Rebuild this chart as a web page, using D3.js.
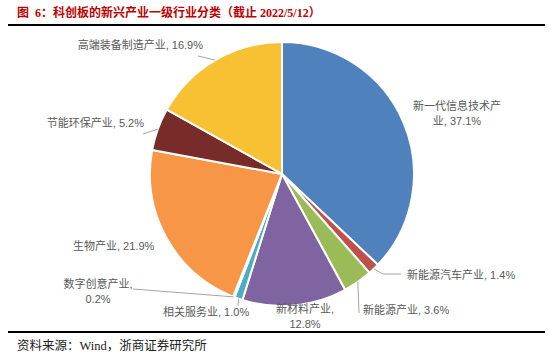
<!DOCTYPE html>
<html><head><meta charset="utf-8">
<script src="https://cdn.jsdelivr.net/npm/d3@7"></script>
<style>body{margin:0;background:#fff}svg{display:block}</style>
</head><body>
<svg id="c" width="550" height="359"></svg>
<script>
const categories = ["新一代信息技术产业","新能源汽车产业","新能源产业","新材料产业","相关服务业","数字创意产业","生物产业","节能环保产业","高端装备制造产业"];
const values = [37.1, 1.4, 3.6, 12.8, 1.0, 0.2, 21.9, 5.2, 16.9];
const colors = ["#4F81BD","#C0504D","#9BBB59","#8064A2","#4BACC6","#2C4D75","#F79646","#772C2A","#F8C133"];
const labelLines = [
  ["新一代信息技术产","业, 37.1%"],
  ["新能源汽车产业, 1.4%"],
  ["新能源产业, 3.6%"],
  ["新材料产业,","12.8%"],
  ["相关服务业, 1.0%"],
  ["数字创意产业,","0.2%"],
  ["生物产业, 21.9%"],
  ["节能环保产业, 5.2%"],
  ["高端装备制造产业, 16.9%"]
];
// label layout: x, baseline y, anchor, leader line points (after arc edge), or null
const labelLayout = [
  {x:457, y:110, a:"middle", lead:null},
  {x:407, y:279, a:"start", lead:[[383,274],[401,274]]},
  {x:363, y:314, a:"start", lead:[[359,313]]},
  {x:305, y:313, a:"middle", lead:null},
  {x:163, y:316, a:"start", lead:[[238,306]]},
  {x:98,  y:288, a:"middle", lead:[[133,289]]},
  {x:73,  y:250, a:"start", lead:null},
  {x:144, y:127, a:"end", lead:[[143,134]]},
  {x:203, y:49,  a:"end", lead:[[198,56]]}
];

const svg = d3.select("#c");
const font = "'Liberation Sans', Arial, 'Noto Sans CJK SC', sans-serif";

// title
svg.append("text").attr("x",17).attr("y",17)
  .attr("font-family","'Liberation Serif','Noto Sans CJK SC',serif")
  .attr("font-weight","bold").attr("font-size",12).attr("fill","#C00000")
  .attr("xml:space","preserve")
  .text("图  6：科创板的新兴产业一级行业分类（截止 2022/5/12）");
svg.append("line").attr("x1",8).attr("x2",545).attr("y1",25).attr("y2",25)
  .attr("stroke","#000").attr("stroke-width",2);
svg.append("line").attr("x1",8).attr("x2",545).attr("y1",332).attr("y2",332)
  .attr("stroke","#000").attr("stroke-width",2);
svg.append("text").attr("x",17).attr("y",350)
  .attr("font-family","'Liberation Serif','Noto Sans CJK SC',serif")
  .attr("font-size",12.5).attr("fill","#222")
  .text("资料来源：Wind，浙商证券研究所");

const cx = 282, cy = 174, R = 132;
const data = categories.map((c,i)=>({name:c, value:values[i], i}));
const pie = d3.pie().value(d=>d.value).sort(null);
const arcs = pie(data);
const arc = d3.arc().innerRadius(0).outerRadius(R);
const g = svg.append("g").attr("transform",`translate(${cx},${cy})`);
g.selectAll("path").data(arcs).join("path")
  .attr("d",arc).attr("fill",d=>colors[d.data.i])
  .attr("stroke","#fff").attr("stroke-width",2).attr("stroke-linejoin","round");

// leader lines
const lineGen = d3.line();
arcs.forEach((d,i)=>{
  const L = labelLayout[i];
  if(!L.lead) return;
  const m = (d.startAngle+d.endAngle)/2;
  const p0 = [cx + R*Math.sin(m), cy - R*Math.cos(m)];
  svg.append("path").attr("d", lineGen([p0, ...L.lead]))
    .attr("fill","none").attr("stroke","#A6A6A6").attr("stroke-width",1);
});

// labels
arcs.forEach((d,i)=>{
  const L = labelLayout[i];
  const t = svg.append("text").attr("font-family",font).attr("font-size",11)
    .attr("fill","#595959").attr("text-anchor",L.a);
  labelLines[i].forEach((s,k)=>{
    t.append("tspan").attr("x",L.x).attr("y",L.y + k*15).text(s);
  });
});
</script>
</body></html>
